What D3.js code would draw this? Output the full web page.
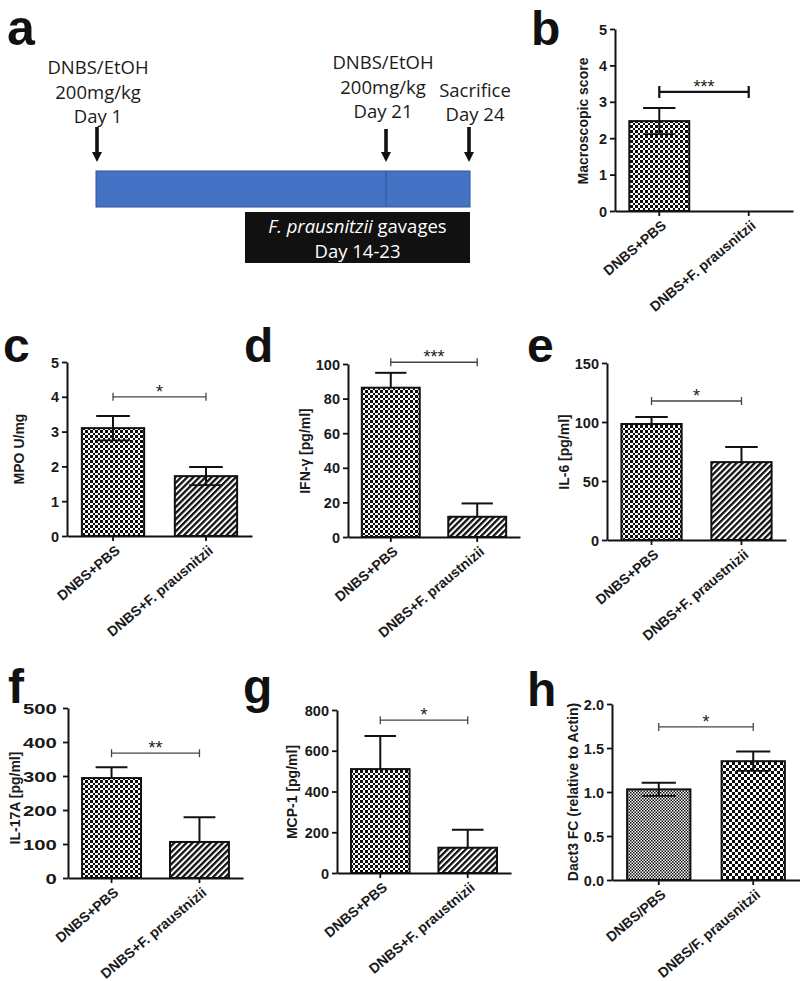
<!DOCTYPE html>
<html><head><meta charset="utf-8">
<script src="https://cdn.jsdelivr.net/npm/d3@7"></script>
<style>body{margin:0;background:#fff}svg{display:block}</style>
</head><body>
<svg id="fig" width="800" height="981"></svg>
<script>
// ================= DATA =================
// panel a: timeline schematic
const eventDays = [1, 21, 24];
const eventLabels = [["DNBS/EtOH", "200mg/kg", "Day 1"], ["DNBS/EtOH", "200mg/kg", "Day 21"], ["Sacrifice", "Day 24"]];
const timelineSpan = [1, 24];
const gavageSpan = [14, 24];
const gavageText = ["F. prausnitzii", " gavages", "Day 14-23"];

// bar panels
const catsPlus = ["DNBS+PBS", "DNBS+F. prausnitzii"];
const catsPlusTypo = ["DNBS+PBS", "DNBS+F. praustnizii"];
const catsSlash = ["DNBS/PBS", "DNBS/F. prausnitzii"];

const scoreMean = [2.47, 0],   scoreSem = [0.36, 0];
const mpoMean   = [3.10, 1.72], mpoSem  = [0.35, 0.26];
const ifnMean   = [86.3, 11.7], ifnSem  = [8.6, 7.7];
const il6Mean   = [98.3, 66.0], il6Sem  = [6.0, 12.8];
const il17Mean  = [294, 106],   il17Sem = [32, 73];
const mcpMean   = [510, 124],   mcpSem  = [163, 88];
const dactMean  = [1.03, 1.35], dactSem = [0.075, 0.11];

const scoreTicks = [0, 1, 2, 3, 4, 5];
const mpoTicks   = [0, 1, 2, 3, 4, 5];
const ifnTicks   = [0, 20, 40, 60, 80, 100];
const il6Ticks   = [0, 50, 100, 150];
const il17Ticks  = [0, 100, 200, 300, 400, 500];
const mcpTicks   = [0, 200, 400, 600, 800];
const dactTicks  = [0, 0.5, 1.0, 1.5, 2.0];

const sigStars  = ["***", "*", "***", "*", "**", "*", "*"];
const sigLevels = [3.27, 4.0, 101, 117.8, 367, 750, 1.74];

// ================= DRAW =================
const svg = d3.select("#fig");
svg.append("rect").attr("width", 800).attr("height", 981).attr("fill", "#fff");
const defs = svg.append("defs");

function checker(id, s, crisp) {
  const p = defs.append("pattern").attr("id", id).attr("patternUnits", "userSpaceOnUse")
    .attr("width", 2 * s).attr("height", 2 * s);
  p.append("rect").attr("width", 2 * s).attr("height", 2 * s).attr("fill", "#fff");
  const a = p.append("rect").attr("width", s).attr("height", s).attr("fill", "#0d0d0d");
  const b = p.append("rect").attr("x", s).attr("y", s).attr("width", s).attr("height", s).attr("fill", "#0d0d0d");
  if (crisp) { a.attr("shape-rendering", "crispEdges"); b.attr("shape-rendering", "crispEdges"); }
}
checker("chk", 2.5, true);
checker("chkFine", 1.5, false);
checker("chkBig", 3, true);
{
  const p = defs.append("pattern").attr("id", "stripe").attr("patternUnits", "userSpaceOnUse")
    .attr("width", 4.3).attr("height", 4.3).attr("patternTransform", "rotate(45)");
  p.append("rect").attr("width", 4.3).attr("height", 4.3).attr("fill", "#fff");
  p.append("rect").attr("x", 0).attr("width", 2.3).attr("height", 4.3).attr("fill", "#111");
}

const LETTER_FONT = "'Liberation Sans', Arial, sans-serif";
function letter(t, x, y, size) {
  svg.append("text").attr("x", x).attr("y", y).text(t)
    .attr("font-family", LETTER_FONT).attr("font-weight", "bold").attr("font-size", size || 48).attr("fill", "#111");
}

// ---------- panel a ----------
{
  const g = svg.append("g");
  const x = d3.scaleLinear().domain([1, 14, 21, 24]).range([97, 245, 386, 469]);
  const SCH_FONT = "'Open Sans', Lato, sans-serif";
  const labelDx = [1, -3, 6];
  const lastBase = [123, 118, 121];
  const arrowTop = [127, 129, 127];
  eventDays.forEach((d, i) => {
    const lines = eventLabels[i];
    lines.forEach((ln, j) => {
      g.append("text").attr("x", x(d) + labelDx[i]).attr("y", lastBase[i] - (lines.length - 1 - j) * 24.5)
        .attr("text-anchor", "middle").attr("font-family", SCH_FONT).attr("font-size", 18.5)
        .attr("fill", "#1a1a1a").text(ln);
    });
    const tip = 162;
    g.append("line").attr("x1", x(d)).attr("x2", x(d)).attr("y1", arrowTop[i]).attr("y2", tip - 8)
      .attr("stroke", "#111").attr("stroke-width", 3.6);
    g.append("path").attr("d", `M${x(d) - 5},${tip - 10}L${x(d) + 5},${tip - 10}L${x(d)},${tip}Z`).attr("fill", "#111");
  });
  g.append("rect").attr("x", x(timelineSpan[0]) - 1).attr("y", 171)
    .attr("width", x(timelineSpan[1]) - x(timelineSpan[0]) + 2).attr("height", 36)
    .attr("fill", "#4472C4").attr("stroke", "#2F5597").attr("stroke-width", 1);
  g.append("line").attr("x1", x(21)).attr("x2", x(21)).attr("y1", 171).attr("y2", 207)
    .attr("stroke", "#2F5597").attr("stroke-width", 1);
  g.append("rect").attr("x", x(gavageSpan[0])).attr("y", 212)
    .attr("width", x(gavageSpan[1]) + 1 - x(gavageSpan[0])).attr("height", 51).attr("fill", "#111");
  const cx = (x(gavageSpan[0]) + x(gavageSpan[1]) + 1) / 2;
  const t1 = g.append("text").attr("x", cx).attr("y", 233).attr("text-anchor", "middle")
    .attr("font-family", SCH_FONT).attr("font-size", 18.5).attr("fill", "#fff");
  t1.append("tspan").attr("font-style", "italic").text(gavageText[0]);
  t1.append("tspan").text(gavageText[1]);
  g.append("text").attr("x", cx).attr("y", 258).attr("text-anchor", "middle")
    .attr("font-family", SCH_FONT).attr("font-size", 18.5).attr("fill", "#fff").text(gavageText[2]);
  letter("a", 7, 45, 50);
}

// ---------- bar panels ----------
const FONT = "'Liberation Sans', Arial, Helvetica, sans-serif";
function barPanel(o) {
  const g = svg.append("g");
  const x = d3.scaleBand().domain(o.cats).range([o.left, o.right]).paddingInner(0.33).paddingOuter(0.16);
  const y = d3.scaleLinear().domain([0, o.ticks[o.ticks.length - 1]]).range([o.bottom, o.top]);
  const bw = x.bandwidth();
  const rows = o.cats.map((c, i) => ({ c, m: o.mean[i], s: o.sem[i], f: o.fills[i] }));

  g.selectAll("rect.bar").data(rows.filter(r => r.m > 0)).join("rect").attr("class", "bar")
    .attr("x", r => x(r.c)).attr("width", bw)
    .attr("y", r => y(r.m)).attr("height", r => o.bottom - y(r.m))
    .attr("fill", r => `url(#${r.f})`).attr("stroke", "#111").attr("stroke-width", 2);

  const eb = rows.filter(r => r.s > 0);
  const cap = bw * 0.27;
  g.selectAll("line.ev").data(eb).join("line").attr("class", "ev")
    .attr("x1", r => x(r.c) + bw / 2).attr("x2", r => x(r.c) + bw / 2)
    .attr("y1", r => y(o.lowerCaps ? r.m - r.s : r.m)).attr("y2", r => y(r.m + r.s))
    .attr("stroke", "#111").attr("stroke-width", 2);
  g.selectAll("line.ecap").data(eb).join("line").attr("class", "ecap")
    .attr("x1", r => x(r.c) + bw / 2 - cap).attr("x2", r => x(r.c) + bw / 2 + cap)
    .attr("y1", r => y(r.m + r.s)).attr("y2", r => y(r.m + r.s))
    .attr("stroke", "#111").attr("stroke-width", 2);
  if (o.lowerCaps) {
    g.selectAll("line.lcap").data(eb).join("line").attr("class", "lcap")
      .attr("x1", r => x(r.c) + bw / 2 - cap).attr("x2", r => x(r.c) + bw / 2 + cap)
      .attr("y1", r => y(r.m - r.s)).attr("y2", r => y(r.m - r.s))
      .attr("stroke", "#111").attr("stroke-width", 1.8);
  }

  const ya = g.append("g").attr("transform", `translate(${o.left},0)`)
    .call(d3.axisLeft(y).tickValues(o.ticks).tickSize(5).tickSizeOuter(0).tickFormat(o.fmt || d3.format("d")));
  const xa = g.append("g").attr("transform", `translate(0,${o.bottom})`)
    .call(d3.axisBottom(x).tickSize(5).tickSizeOuter(0).tickFormat(""));
  [ya, xa].forEach(a => {
    a.select(".domain").attr("stroke", "#111").attr("stroke-width", 2);
    a.selectAll(".tick line").attr("stroke", "#111").attr("stroke-width", 1.8);
  });
  ya.selectAll(".tick text").attr("font-family", FONT).attr("font-weight", "bold")
    .attr("font-size", 14.5).attr("fill", "#1a1a1a").attr("dy", "0.35em");
  if (o.stretch) ya.selectAll(".tick text").attr("transform", `scale(${o.stretch},1)`);

  g.selectAll("text.cat").data(o.cats).join("text").attr("class", "cat")
    .attr("transform", c => `translate(${x(c) + bw / 2 + 8},${o.bottom + 16}) rotate(-40)`)
    .attr("text-anchor", "end").attr("font-family", FONT).attr("font-weight", "bold")
    .attr("font-size", 14).attr("fill", "#1a1a1a").text(c => c);

  const bx1 = x(o.cats[0]) + bw / 2, bx2 = x(o.cats[1]) + bw / 2, by = y(o.sig);
  const sw = o.boldBracket ? 2.2 : 1.3, sc = o.boldBracket ? "#111" : "#444", th = o.boldBracket ? 6 : 4;
  g.append("line").attr("x1", bx1).attr("x2", bx2).attr("y1", by).attr("y2", by).attr("stroke", sc).attr("stroke-width", sw);
  [bx1, bx2].forEach(bx => g.append("line").attr("x1", bx).attr("x2", bx).attr("y1", by - th).attr("y2", by + th)
    .attr("stroke", sc).attr("stroke-width", sw));
  g.append("text").attr("x", (bx1 + bx2) / 2).attr("y", by + 1).attr("text-anchor", "middle")
    .attr("font-family", FONT).attr("font-size", 18).attr("fill", "#222").text(o.stars);

  g.append("text").attr("transform", `translate(${o.tx},${o.ty}) rotate(-90)`)
    .attr("text-anchor", "middle").attr("dominant-baseline", "central")
    .attr("font-family", FONT).attr("font-weight", "bold")
    .attr("font-size", o.titleSize || 14).attr("fill", "#1a1a1a").text(o.title);

  letter(o.letter, o.lx, o.ly);
}

barPanel({ letter: "b", lx: 531, ly: 45, cats: catsPlus, mean: scoreMean, sem: scoreSem, ticks: scoreTicks,
  fills: ["chk", "stripe"], sig: sigLevels[0], stars: sigStars[0], boldBracket: true, lowerCaps: true,
  left: 615, right: 793, bottom: 211, top: 29, title: "Macroscopic score", tx: 583, ty: 121 });

barPanel({ letter: "c", lx: 3, ly: 362, cats: catsPlus, mean: mpoMean, sem: mpoSem, ticks: mpoTicks,
  fills: ["chk", "stripe"], sig: sigLevels[1], stars: sigStars[1], lowerCaps: true,
  left: 67, right: 252, bottom: 536, top: 362, title: "MPO U/mg", tx: 19, ty: 449 });

barPanel({ letter: "d", lx: 244, ly: 362, cats: catsPlusTypo, mean: ifnMean, sem: ifnSem, ticks: ifnTicks,
  fills: ["chk", "stripe"], sig: sigLevels[2], stars: sigStars[2],
  left: 348, right: 520, bottom: 537, top: 364, title: "IFN-γ [pg/ml]", tx: 305, ty: 451 });

barPanel({ letter: "e", lx: 527, ly: 362, cats: catsPlusTypo, mean: il6Mean, sem: il6Sem, ticks: il6Ticks,
  fills: ["chk", "stripe"], sig: sigLevels[3], stars: sigStars[3],
  left: 607, right: 786, bottom: 540, top: 363, title: "IL-6 [pg/ml]", tx: 564, ty: 452 });

barPanel({ letter: "f", lx: 8, ly: 703, cats: catsPlusTypo, mean: il17Mean, sem: il17Sem, ticks: il17Ticks,
  fills: ["chk", "stripe"], sig: sigLevels[4], stars: sigStars[4], stretch: 1.4,
  left: 68, right: 243, bottom: 878, top: 708, title: "IL-17A [pg/ml]", tx: 15, ty: 798 });

barPanel({ letter: "g", lx: 243, ly: 703, cats: catsPlusTypo, mean: mcpMean, sem: mcpSem, ticks: mcpTicks,
  fills: ["chk", "stripe"], sig: sigLevels[5], stars: sigStars[5],
  left: 337, right: 511, bottom: 873, top: 710, title: "MCP-1 [pg/ml]", tx: 292, ty: 792 });

barPanel({ letter: "h", lx: 527, ly: 706, cats: catsSlash, mean: dactMean, sem: dactSem, ticks: dactTicks,
  fills: ["chkFine", "chkBig"], sig: sigLevels[6], stars: sigStars[6], lowerCaps: true, fmt: d3.format(".1f"),
  left: 612, right: 800, bottom: 880, top: 704, title: "Dact3 FC (relative to Actin)", tx: 573, ty: 792 });
</script>
</body></html>
